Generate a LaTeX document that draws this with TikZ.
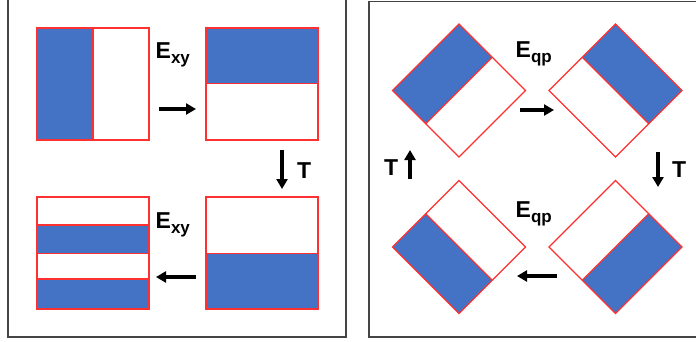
\documentclass[tikz,border=0pt]{standalone}
\usepackage{fontspec}
\setmainfont{Liberation Sans}
\usetikzlibrary{arrows.meta}
\definecolor{fillblue}{HTML}{4472C4}
\definecolor{edgered}{HTML}{FF3030}
\definecolor{framegray}{HTML}{454545}
\begin{document}
\begin{tikzpicture}[x=1pt,y=-1pt,
  frame/.style={draw=framegray,line width=1.8pt},
  edge/.style={draw=edgered,line width=1.3pt},
  bluefill/.style={fill=fillblue},
  cell/.style={draw=edgered,line width=1.3pt,minimum size=112pt,inner sep=0pt,outer sep=0pt},
  bigarrow/.style={line width=3.4pt,-{Triangle[width=11pt,length=10pt]}},
  lab/.style={inner sep=0pt,anchor=base west,font=\fontsize{23}{23}\selectfont\bfseries}]
\useasboundingbox (0,0) rectangle (696,341);
\fill[white] (0,0) rectangle (696,341);
% frames
\draw[frame] (8,-5) rectangle (346,337);
\draw[frame] (369,1.5) rectangle (705,337);

% ---------- left panel ----------
\fill[bluefill] (37,28) rectangle (93,140);
\fill[bluefill] (206,28) rectangle (318,83.5);
\fill[bluefill] (206,253.5) rectangle (318,309);
\fill[bluefill] (37,225) rectangle (149,253.5);
\fill[bluefill] (37,279) rectangle (149,309);
\node[cell] (a1) at (93,84) {};
\node[cell] (a2) at (262,84) {};
\node[cell] (a3) at (262,253) {};
\node[cell] (a4) at (93,253) {};
\draw[edge] (93,28) -- (93,140);
\draw[edge] (206,83.5) -- (318,83.5);
\draw[edge] (206,253.5) -- (318,253.5);
\draw[edge] (37,225) -- (149,225);
\draw[edge] (37,253.5) -- (149,253.5);
\draw[edge] (37,279) -- (149,279);

\coordinate (p1s) at (159,109); \coordinate (p1e) at (196,109);
\coordinate (p2s) at (282,150); \coordinate (p2e) at (282,189);
\coordinate (p3s) at (196,277); \coordinate (p3e) at (156,277);
\draw[bigarrow] (p1s) -- (p1e);
\draw[bigarrow] (p2s) -- (p2e);
\draw[bigarrow] (p3s) -- (p3e);
\node[lab] (l1) at (155.5,58) {E\raisebox{-5pt}{\fontsize{17}{17}\selectfont xy}};
\node[lab] (l2) at (155.5,228) {E\raisebox{-5pt}{\fontsize{17}{17}\selectfont xy}};
\node[lab] (l3) at (297,178) {T};

% ---------- right panel ----------
% TL diamond, centre (459,90.5)
\fill[bluefill] (392.5,90.5) -- (459,24) -- (492.25,57.25) -- (425.75,123.75) -- cycle;
\draw[edge] (392.5,90.5) -- (459,24) -- (525.5,90.5) -- (459,157) -- cycle;
\draw[edge] (492.25,57.25) -- (425.75,123.75);
% TR diamond, centre (615.5,90.5)
\fill[bluefill] (615.5,24) -- (682,90.5) -- (648.75,123.75) -- (582.25,57.25) -- cycle;
\draw[edge] (549,90.5) -- (615.5,24) -- (682,90.5) -- (615.5,157) -- cycle;
\draw[edge] (648.75,123.75) -- (582.25,57.25);
% BR diamond, centre (615.5,247)
\fill[bluefill] (682,247) -- (615.5,313.5) -- (582.25,280.25) -- (648.75,213.75) -- cycle;
\draw[edge] (549,247) -- (615.5,180.5) -- (682,247) -- (615.5,313.5) -- cycle;
\draw[edge] (582.25,280.25) -- (648.75,213.75);
% BL diamond, centre (459,247)
\fill[bluefill] (459,313.5) -- (392.5,247) -- (425.75,213.75) -- (492.25,280.25) -- cycle;
\draw[edge] (392.5,247) -- (459,180.5) -- (525.5,247) -- (459,313.5) -- cycle;
\draw[edge] (425.75,213.75) -- (492.25,280.25);

\coordinate (q1s) at (520,110); \coordinate (q1e) at (554,110);
\coordinate (q2s) at (658,152); \coordinate (q2e) at (658,187);
\coordinate (q3s) at (557,276); \coordinate (q3e) at (517,276);
\coordinate (q4s) at (410,179); \coordinate (q4e) at (410,150);
\draw[bigarrow] (q1s) -- (q1e);
\draw[bigarrow] (q2s) -- (q2e);
\draw[bigarrow] (q3s) -- (q3e);
\draw[bigarrow] (q4s) -- (q4e);
\node[lab] (m1) at (515.5,57) {E\raisebox{-5pt}{\fontsize{17}{17}\selectfont qp}};
\node[lab] (m2) at (515.5,217) {E\raisebox{-5pt}{\fontsize{17}{17}\selectfont qp}};
\node[lab] (m3) at (672,177) {T};
\node[lab] (m4) at (384,175) {T};
\end{tikzpicture}
\end{document}
